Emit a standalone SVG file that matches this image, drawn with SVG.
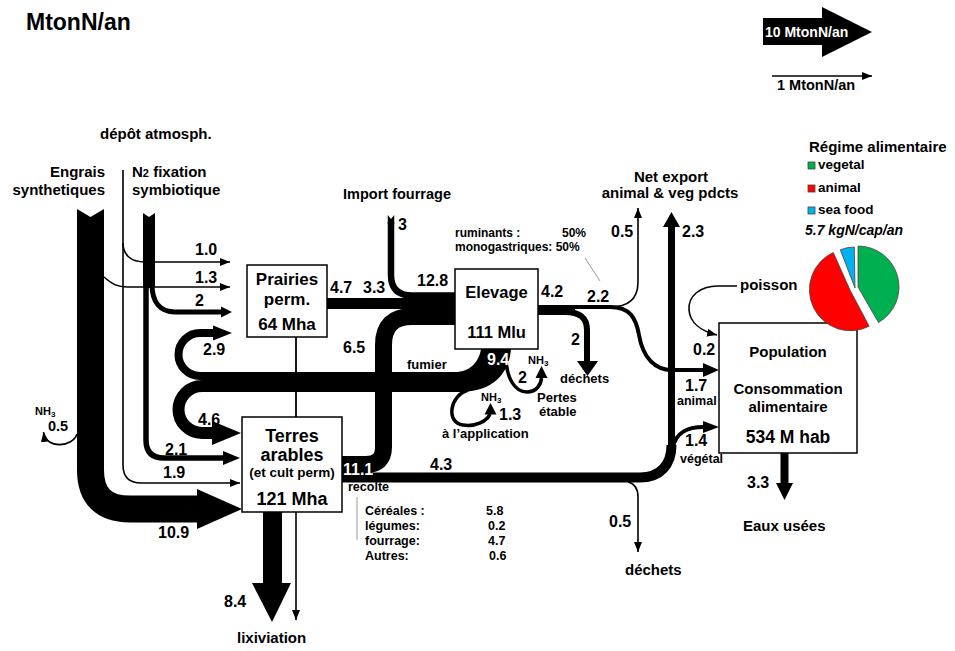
<svg xmlns="http://www.w3.org/2000/svg" width="955" height="651" viewBox="0 0 955 651">
<defs>
<style>
text{font-family:"Liberation Sans",Arial,sans-serif;font-weight:bold;fill:#000}
.f16{font-size:16px}
.f15{font-size:15px}
.f13{font-size:13px}
.f12{font-size:12.5px}
.w{fill:#fff}
.mid{text-anchor:middle}
.band{fill:none;stroke:#000}
.thin{fill:none;stroke:#000;stroke-width:1.6}
.box{fill:#fff;stroke:#000;stroke-width:1.5}
.lead{stroke:#9a9a9a;stroke-width:1;fill:none}
.slice{stroke:#444;stroke-width:0.8}
</style>
<marker id="ah" viewBox="0 0 10 8" refX="10" refY="4" markerWidth="10" markerHeight="8" markerUnits="userSpaceOnUse" orient="auto">
<path d="M0,0 L10,4 L0,8 Z"/>
</marker>
</defs>
<rect width="955" height="651" fill="#fff"/>

<!-- title -->
<text x="26" y="30" style="font-size:23px">MtonN/an</text>

<!-- scale legend -->
<g id="scale">
<rect x="763" y="18" width="60" height="27"/>
<polygon points="822,7 872,32 822,57"/>
<text x="765" y="37" class="w" style="font-size:14px">10 MtonN/an</text>
<line x1="772" y1="76" x2="872" y2="76" class="thin" marker-end="url(#ah)"/>
<text x="777" y="90" style="font-size:14.5px">1 MtonN/an</text>
</g>

<g id="connectors">
<!-- synthetic fertiliser -->
<path class="band" stroke-width="27" d="M90.5 218 V470 Q90.5 509 130 509 H199"/>
<polygon points="77,209 90.5,217 104,209 104,222 77,222"/>
<polygon points="197,489 242,509 197,529"/>
<path class="thin" d="M104 277 C112 284 117 287 128 287 H230" marker-end="url(#ah)"/>
<path class="thin" d="M77 434 C73 447 46 450 43.5 432" marker-end="url(#ah)"/>
<!-- atmospheric deposition -->
<path class="thin" d="M123 170 V465 Q123 483 141 483 H240" marker-end="url(#ah)"/>
<path class="thin" d="M123 243 C123 255 131 262 145 262 H230" marker-end="url(#ah)"/>
<!-- symbiotic fixation -->
<polygon points="143,213 149,217 155,213 155,288 143,288"/>
<path class="band" stroke-width="5" d="M152 284 C152 302 160 312 175 312 H222"/>
<polygon points="221,306.5 232,312 221,317.5"/>
<path class="band" stroke-width="5.5" d="M146 285 V440 Q146 458 164 458 H225"/>
<polygon points="223,451 240,458 223,465"/>
<!-- manure recycling loops -->
<path d="M210 372 H455 C470 372 479 362 481 349 H511 C509 376 490 392 460 392 H210 Z"/>
<path class="band" stroke-width="8" d="M212 376 H200 A21.5 21.5 0 0 1 200 333 H215"/>
<polygon points="213,325.5 232,333 213,340.5"/>
<path class="band" stroke-width="12" d="M212 386 H202 A23.5 23.5 0 0 0 202 433 H215"/>
<polygon points="212,421 241,433 212,445"/>
<path class="band" stroke-width="3.5" d="M468 390 C449 396 446 423 463 425 C476 427 487 421 490 414"/>
<polygon points="484.5,414.5 496.5,414.5 490.5,403"/>
<path class="band" stroke-width="3.5" d="M506 352 C505 378 515 392 527 392 C537 392 541 384 541.5 378"/>
<polygon points="535.5,378 547.5,378 541.5,366"/>
<!-- feed to livestock -->
<path class="band" stroke-width="11" d="M327 303.5 H455"/>
<path class="band" stroke-width="6.5" d="M391 222 V275 Q391 295.5 412 295.5 H455"/>
<polygon points="387.75,215 391,219 394.25,215 394.25,224 387.75,224"/>
<path class="band" stroke-width="17" d="M342 464.5 H366 Q383.5 464.5 383.5 447 V345 Q383.5 316.5 412 316.5 H455"/>
<!-- livestock outputs -->
<path class="band" stroke-width="10" d="M538 310 H575"/>
<path class="band" stroke-width="4" d="M570 307 H612"/>
<path class="band" stroke-width="6" d="M565 312 C580 312 587 318 587 330 V362"/>
<polygon points="577,361 598,361 587.5,376"/>
<path class="thin" d="M610 307 C630 307 638 298 638 282 V208" marker-end="url(#ah)"/>
<path class="band" stroke-width="4" d="M610 307 C630 307 636 318 639 335 C643 358 655 370 672 370 H705"/>
<polygon points="703,363 719,370 703,377"/>
<!-- crop harvest -->
<path class="band" stroke-width="10" d="M342 477.5 H640 C660 477.5 671.5 465 671.5 445"/>
<path class="band" stroke-width="7" d="M671.5 450 V226"/>
<polygon points="663,227 680,227 671.5,212"/>
<path class="band" stroke-width="4" d="M673 447 C676 433 686 427 704 427"/>
<polygon points="703,421 719,427 703,433"/>
<path class="thin" d="M628 482 C636 484 638 490 638 497 V552" marker-end="url(#ah)"/>
<!-- fish -->
<path class="thin" d="M737 286 H718 C700 286 688 296 689 310 C690 322 700 331 717 335" marker-end="url(#ah)"/>
<!-- losses from land and population -->
<line x1="296" y1="337" x2="296" y2="417" stroke="#000" stroke-width="1.8"/>
<path class="thin" stroke-width="1.8" d="M296 512 V620" marker-end="url(#ah)"/>
<rect x="263" y="512" width="19" height="72"/>
<polygon points="252,583 291,583 272,622"/>
<rect x="780.5" y="453" width="8" height="31"/>
<polygon points="776,483 793,483 784.5,500"/>
<!-- leader lines -->
<line x1="357" y1="497" x2="357" y2="540" class="lead"/>
<line x1="585" y1="258" x2="600" y2="281" class="lead"/>
</g>

<g id="prairies">
<rect x="247" y="265" width="80" height="72" class="box"/>
<text x="287" y="285" class="mid" style="font-size:17px">Prairies</text>
<text x="287" y="305" class="mid" style="font-size:17px">perm.</text>
<text x="287" y="330" class="mid" style="font-size:17px">64 Mha</text>
</g>

<g id="terres">
<rect x="242" y="417" width="100" height="95" class="box"/>
<text x="292" y="442" class="mid" style="font-size:18px">Terres</text>
<text x="292" y="461" class="mid" style="font-size:18px">arables</text>
<text x="292" y="477" class="mid" style="font-size:13.5px">(et cult perm)</text>
<text x="292" y="505" class="mid" style="font-size:18px">121 Mha</text>
</g>

<g id="elevage">
<rect x="455" y="269" width="83" height="80" class="box"/>
<text x="496.5" y="298" class="mid" style="font-size:16.5px">Elevage</text>
<text x="496.5" y="338" class="mid" style="font-size:16.5px">111 Mlu</text>
</g>

<g id="population">
<rect x="719" y="323" width="138" height="130" class="box"/>
<text x="788" y="357" class="mid f15">Population</text>
<text x="788" y="394" class="mid f15">Consommation</text>
<text x="788" y="412" class="mid f15">alimentaire</text>
<text x="788" y="443" class="mid" style="font-size:17.5px">534 M hab</text>
</g>

<g id="regime">
<path class="slice" fill="#00b050" d="M858 287 L858 246 A41 41 0 0 1 878.5 322.5 Z"/>
<path class="slice" fill="#ff0000" d="M850 290 L869.2 326.2 A41 41 0 1 1 833.3 252.5 Z"/>
<path class="slice" fill="#00b0f0" d="M855 288 L840.3 249.7 A41 41 0 0 1 854.3 247 Z"/>
<text x="809" y="152" class="f15">Régime alimentaire</text>
<rect x="808" y="162" width="7" height="7" fill="#00b050" class="slice"/>
<text x="818" y="169" style="font-size:13.5px">vegetal</text>
<rect x="808" y="185" width="7" height="7" fill="#ff0000" class="slice"/>
<text x="818" y="192" style="font-size:13.5px">animal</text>
<rect x="808" y="207" width="7" height="7" fill="#00b0f0" class="slice"/>
<text x="818" y="214" style="font-size:13.5px">sea food</text>
<text x="805" y="235" style="font-size:14px;font-style:italic">5.7 kgN/cap/an</text>
</g>

<g id="labels">
<text x="100" y="139" class="f15">dépôt atmosph.</text>
<text x="105" y="177" class="f15" text-anchor="end">Engrais</text>
<text x="105" y="195" class="f15" text-anchor="end">synthetiques</text>
<text x="132" y="177" class="f15">N<tspan style="font-size:11px">2</tspan> fixation</text>
<text x="132" y="195" class="f15">symbiotique</text>
<text x="343" y="199" style="font-size:14.5px">Import fourrage</text>
<text x="671" y="182" class="mid f15">Net export</text>
<text x="670" y="198" class="mid f15">animal &amp; veg pdcts</text>

<text x="195" y="255" class="f16">1.0</text>
<text x="195" y="283" class="f16">1.3</text>
<text x="195" y="306" class="f16">2</text>
<text x="203" y="355" class="f16">2.9</text>
<text x="198" y="425" class="f16">4.6</text>
<text x="165" y="455" class="f16">2.1</text>
<text x="163" y="478" class="f16">1.9</text>
<text x="158" y="538" class="f16">10.9</text>
<text x="35" y="415" style="font-size:11px">NH<tspan dy="1.5" style="font-size:8px">3</tspan></text>
<text x="48" y="431" style="font-size:14.5px">0.5</text>
<text x="224" y="607" class="f16">8.4</text>
<text x="237" y="643" class="f15">lixiviation</text>

<text x="330" y="293" class="f16">4.7</text>
<text x="363" y="293" class="f16">3.3</text>
<text x="417" y="286" class="f16">12.8</text>
<text x="398" y="230" class="f16">3</text>
<text x="343" y="353" class="f16">6.5</text>
<text x="407" y="369" class="f13">fumier</text>
<text x="487" y="365" class="f16 w">9.4</text>
<text x="528" y="364" style="font-size:11px">NH<tspan dy="1.5" style="font-size:8px">3</tspan></text>
<text x="518" y="383" class="f16">2</text>
<text x="537" y="402" class="f13">Pertes</text>
<text x="539" y="416" class="f13">étable</text>
<text x="481" y="401" style="font-size:11px">NH<tspan dy="1.5" style="font-size:8px">3</tspan></text>
<text x="499" y="420" class="f16">1.3</text>
<text x="442" y="438" class="f13">à l’application</text>

<text x="541" y="297" class="f16">4.2</text>
<text x="587" y="302" class="f16">2.2</text>
<text x="571" y="345" class="f16">2</text>
<text x="560" y="383" class="f13">déchets</text>
<text x="455" y="237" style="font-size:12px">ruminants :</text>
<text x="562" y="237" style="font-size:12px">50%</text>
<text x="455" y="251" style="font-size:12px">monogastriques: 50%</text>
<text x="611" y="237" class="f16">0.5</text>
<text x="682" y="237" class="f16">2.3</text>

<text x="740" y="290" class="f15">poisson</text>
<text x="693" y="355" class="f16">0.2</text>
<text x="685" y="391" class="f16">1.7</text>
<text x="677" y="405" style="font-size:12.5px">animal</text>
<text x="685" y="446" class="f16">1.4</text>
<text x="680" y="463" style="font-size:12.5px">végétal</text>
<text x="747" y="488" class="f16">3.3</text>
<text x="743" y="531" class="f15">Eaux usées</text>

<text x="343" y="475" class="f16 w">11.1</text>
<text x="430" y="470" class="f16">4.3</text>
<text x="348" y="491" class="f12">recolte</text>
<text x="365" y="515" class="f12">Céréales :</text>
<text x="365" y="530" class="f12">légumes:</text>
<text x="365" y="545" class="f12">fourrage:</text>
<text x="365" y="560" class="f12">Autres:</text>
<text x="486" y="515" class="f12">5.8</text>
<text x="488" y="530" class="f12">0.2</text>
<text x="488" y="545" class="f12">4.7</text>
<text x="489" y="560" class="f12">0.6</text>
<text x="609" y="527" class="f16">0.5</text>
<text x="625" y="575" class="f15">déchets</text>
</g>
</svg>
